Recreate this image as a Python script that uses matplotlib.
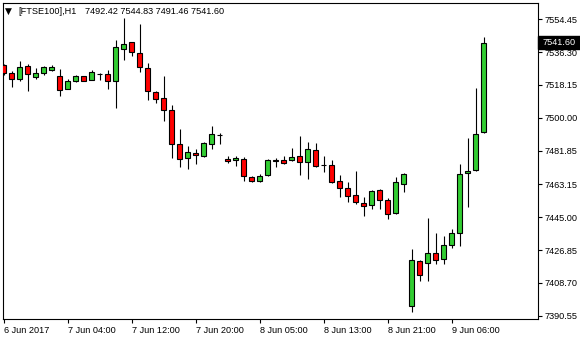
import matplotlib.pyplot as plt
import matplotlib.transforms as mtransforms
from matplotlib.patches import Rectangle

SYMBOL = "[FTSE100],H1"

# hourly bars
OPENS = [7529.2, 7524.9, 7521.6, 7528.8, 7522.7, 7524.6, 7526.6, 7523.0, 7516.1, 7520.2,
         7523.0, 7521.1, 7524.2, 7524.2, 7520.2, 7538.2, 7541.8, 7535.7, 7527.4, 7514.1,
         7510.8, 7504.2, 7485.4, 7477.6, 7480.4, 7479.0, 7485.4, 7490.7, 7477.1, 7476.5,
         7477.1, 7467.4, 7464.9, 7468.2, 7476.8, 7476.5, 7476.8, 7478.7, 7475.4, 7482.0,
         7473.7, 7473.7, 7464.9, 7461.0, 7457.1, 7452.7, 7451.6, 7459.9, 7454.4, 7447.1,
         7463.2, 7395.8, 7420.6, 7419.5, 7425.1, 7421.7, 7429.5, 7436.1, 7469.3, 7471.3,
         7492.42]
HIGHS = [7529.8, 7525.7, 7531.4, 7529.6, 7527.7, 7528.8, 7529.0, 7527.0, 7521.3, 7523.7,
         7523.1, 7526.3, 7524.9, 7526.3, 7543.0, 7555.0, 7541.8, 7551.9, 7530.3, 7515.0,
         7523.1, 7507.1, 7493.8, 7484.4, 7482.6, 7486.5, 7495.5, 7491.4, 7478.9, 7478.7,
         7478.2, 7467.6, 7468.8, 7477.1, 7477.6, 7478.9, 7483.3, 7489.9, 7486.6, 7486.1,
         7478.9, 7476.7, 7468.4, 7464.5, 7470.6, 7456.0, 7460.2, 7460.5, 7455.5, 7467.1,
         7469.5, 7427.4, 7421.2, 7444.6, 7436.3, 7434.6, 7438.5, 7474.5, 7488.7, 7516.3,
         7544.83]
LOWS = [7523.7, 7517.2, 7520.5, 7515.0, 7521.6, 7523.5, 7525.7, 7512.2, 7515.8, 7520.0,
        7520.4, 7520.8, 7520.9, 7515.8, 7505.3, 7532.0, 7534.2, 7525.5, 7509.9, 7508.4,
        7498.4, 7477.9, 7473.0, 7471.9, 7474.3, 7478.2, 7482.6, 7485.4, 7475.2, 7473.5,
        7465.2, 7464.7, 7464.3, 7468.0, 7473.0, 7474.3, 7476.3, 7468.6, 7465.9, 7473.0,
        7470.2, 7464.1, 7456.4, 7453.6, 7452.2, 7445.5, 7449.4, 7449.7, 7444.2, 7446.6,
        7458.7, 7392.8, 7409.9, 7409.9, 7419.3, 7419.3, 7428.2, 7429.3, 7450.8, 7470.8,
        7491.46]
CLOSES = [7524.8, 7521.3, 7527.9, 7524.1, 7524.6, 7527.9, 7527.9, 7515.2, 7520.4, 7523.0,
          7520.5, 7525.5, 7524.3, 7520.5, 7539.0, 7540.8, 7536.2, 7527.9, 7514.7, 7510.6,
          7504.2, 7485.4, 7477.1, 7480.9, 7479.3, 7485.9, 7490.9, 7490.6, 7475.9, 7477.6,
          7467.6, 7464.9, 7468.0, 7476.5, 7476.0, 7474.8, 7478.2, 7475.4, 7482.6, 7473.6,
          7473.8, 7464.7, 7461.0, 7457.0, 7453.3, 7451.1, 7459.4, 7454.4, 7447.0, 7464.3,
          7468.8, 7421.2, 7413.2, 7425.1, 7421.5, 7429.5, 7436.1, 7468.8, 7470.4, 7490.9,
          7541.60]

TIME_LABELS = ["6 Jun 2017", "7 Jun 04:00", "7 Jun 12:00", "7 Jun 20:00",
               "8 Jun 05:00", "8 Jun 13:00", "8 Jun 21:00", "9 Jun 06:00"]
PRICE_TICKS = [7390.55, 7408.70, 7426.85, 7445.00, 7463.15,
               7481.85, 7500.00, 7518.15, 7536.30, 7554.45]

BULL = "#32cd32"
BEAR = "#ff0000"
FONT_SIZE = 6.6

plt.rcParams['font.family'] = ['Liberation Sans', 'DejaVu Sans']


def draw_candles(ax):
    """Wicks first, then the bodies on top."""
    xs = range(len(OPENS))
    ax.vlines(xs, LOWS, HIGHS, color="black", linewidth=0.8, zorder=2)
    heights = [c - o for o, c in zip(OPENS, CLOSES)]
    colors = [BULL if c >= o else BEAR for o, c in zip(OPENS, CLOSES)]
    ax.bar(xs, heights, bottom=OPENS, width=0.55, color=colors,
           edgecolor="black", linewidth=0.8, zorder=3)


def style_axes(ax):
    """MetaTrader-like frame: prices on the right, times below."""
    ax.set_xlim(-0.125, 66.75)
    ax.set_ylim(7388.72, 7563.78)
    for spine in ax.spines.values():
        spine.set_linewidth(0.8)

    ax.set_xticks(range(0, len(OPENS), 8))
    ax.set_xticklabels(TIME_LABELS)
    for lbl in ax.get_xticklabels():
        lbl.set_ha("left")
    ax.tick_params(axis="x", length=3, width=0.8, pad=2, labelsize=FONT_SIZE)

    ax.yaxis.tick_right()
    ax.set_yticks(PRICE_TICKS)
    ax.set_yticklabels(["%.2f" % p for p in PRICE_TICKS])
    ax.tick_params(axis="y", length=3, width=0.8, pad=2, labelsize=FONT_SIZE)


def price_marker(ax):
    """Black box with the last close on the price scale."""
    last = CLOSES[-1]
    trans = mtransforms.blended_transform_factory(ax.transAxes, ax.transData)
    ax.add_patch(Rectangle((1.0, last - 3.4), 0.08, 6.8, transform=trans,
                           facecolor="black", edgecolor="black",
                           clip_on=False, zorder=10))
    ax.text(1.0 + 5.5 / 535, last, "%.2f" % last, transform=trans, color="white",
            fontsize=FONT_SIZE, va="center", ha="left", clip_on=False, zorder=11)


def header(fig):
    """Symbol line at the top left."""
    fig.text(5 / 580, 1 - 11 / 340, "\u25bc", fontsize=6.5, va="center",
             family=["DejaVu Sans"])
    fig.text(18 / 580, 1 - 11 / 340, SYMBOL, fontsize=FONT_SIZE, va="center")
    ohlc = "%.2f %.2f %.2f %.2f" % (OPENS[-1], HIGHS[-1], LOWS[-1], CLOSES[-1])
    fig.text(85 / 580, 1 - 11 / 340, ohlc, fontsize=FONT_SIZE, va="center")


fig = plt.figure(figsize=(5.8, 3.4), dpi=100, facecolor="white")
ax = fig.add_axes([2.5 / 580, 21 / 340, 535 / 580, 316.5 / 340])
draw_candles(ax)
style_axes(ax)
price_marker(ax)
header(fig)
fig.savefig("out.png", dpi=100, facecolor="white")
